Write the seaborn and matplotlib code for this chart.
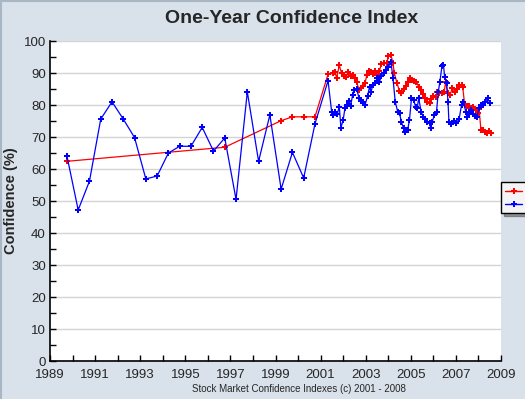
import pandas as pd
import seaborn as sns
import matplotlib.pyplot as plt
from matplotlib.lines import Line2D
from matplotlib.ticker import MultipleLocator

# Dados (ano decimal, índice em %)
red_years = [1989.75, 1996.75, 1999.25, 1999.75, 2000.25, 2000.75,
             2001.33, 2001.53, 2001.63, 2001.71, 2001.83, 2001.93, 2002.04, 2002.13,
             2002.23, 2002.33, 2002.42, 2002.51, 2002.60, 2002.71, 2002.79, 2002.90,
             2002.97, 2003.05, 2003.15, 2003.24, 2003.32, 2003.42, 2003.52, 2003.61,
             2003.69, 2003.82, 2003.94, 2004.01, 2004.12, 2004.21, 2004.27, 2004.39,
             2004.49, 2004.58, 2004.68, 2004.77, 2004.86, 2004.98, 2005.07, 2005.16,
             2005.25, 2005.35, 2005.46, 2005.55, 2005.65, 2005.73, 2005.83, 2005.91,
             2006.00, 2006.10, 2006.17, 2006.26, 2006.38, 2006.48, 2006.55, 2006.63,
             2006.74, 2006.84, 2006.95, 2007.04, 2007.14, 2007.25, 2007.30, 2007.39,
             2007.51, 2007.59, 2007.69, 2007.78, 2007.88, 2007.96, 2008.03, 2008.11,
             2008.21, 2008.30, 2008.38, 2008.45, 2008.55]
red_values = [62.4, 66.8, 75.1, 76.3, 76.3, 76.3,
              89.6, 89.9, 90.4, 88.5, 92.4, 89.9, 89.1, 88.6,
              90.4, 89.1, 89.4, 88.5, 87.1, 84.7, 85.2, 86.0,
              86.8, 89.4, 90.7, 90.4, 89.6, 90.6, 89.4, 90.6,
              92.8, 93.2, 93.0, 95.3, 95.6, 93.0, 89.9, 86.8,
              84.5, 83.6, 84.9, 85.9, 87.3, 88.3, 87.8, 87.6,
              87.3, 85.7, 84.7, 83.3, 82.1, 81.0, 80.5, 81.8,
              82.8, 82.4, 84.2, 83.9, 83.8, 84.2, 87.3, 83.6,
              83.1, 85.2, 84.2, 84.9, 86.3, 86.3, 85.7, 80.0,
              79.7, 79.7, 78.9, 79.5, 78.4, 77.4, 78.6, 72.2,
              72.2, 71.7, 71.2, 72.0, 71.2]

blue_years = [1989.75, 1990.25, 1990.75, 1991.25, 1991.75, 1992.25, 1992.75, 1993.25,
              1993.75, 1994.25, 1994.75, 1995.25, 1995.75, 1996.25, 1996.75, 1997.25,
              1997.75, 1998.25, 1998.75, 1999.25, 1999.75, 2000.25, 2000.75,
              2001.33, 2001.49, 2001.56, 2001.63, 2001.74, 2001.83, 2001.90, 2002.00,
              2002.08, 2002.18, 2002.26, 2002.33, 2002.42, 2002.50, 2002.60, 2002.71,
              2002.79, 2002.90, 2002.97, 2003.08, 2003.17, 2003.24, 2003.32, 2003.42,
              2003.50, 2003.61, 2003.70, 2003.82, 2003.91, 2004.01, 2004.12, 2004.21,
              2004.31, 2004.42, 2004.50, 2004.58, 2004.68, 2004.76, 2004.86, 2004.94,
              2005.03, 2005.13, 2005.21, 2005.28, 2005.35, 2005.46, 2005.55, 2005.65,
              2005.73, 2005.83, 2005.88, 2005.95, 2006.05, 2006.14, 2006.22, 2006.29,
              2006.38, 2006.45, 2006.50, 2006.59, 2006.65, 2006.69, 2006.80, 2006.92,
              2007.02, 2007.14, 2007.25, 2007.33, 2007.44, 2007.51, 2007.59, 2007.66,
              2007.76, 2007.85, 2007.93, 2008.03, 2008.11, 2008.21, 2008.30, 2008.41,
              2008.51]
blue_values = [64.1, 47.2, 56.2, 75.6, 81.0, 75.6, 69.8, 56.9,
               57.8, 65.0, 67.1, 67.1, 73.0, 65.6, 69.7, 50.5,
               84.1, 62.4, 76.9, 53.7, 65.2, 57.2, 74.1,
               87.6, 77.9, 76.9, 77.9, 77.2, 79.5, 72.9, 75.3,
               79.0, 80.0, 81.3, 79.7, 83.1, 84.7, 84.9, 82.1,
               81.3, 81.0, 80.0, 82.7, 85.7, 84.2, 86.3, 86.8,
               88.3, 87.3, 89.0, 89.9, 90.9, 92.0, 93.5, 88.3,
               81.0, 77.9, 77.4, 74.8, 72.7, 71.7, 72.2, 75.3,
               82.1, 81.6, 79.5, 79.0, 82.1, 77.9, 76.3, 75.5,
               74.8, 74.5, 72.7, 74.8, 76.9, 77.9, 84.2, 87.3,
               92.1, 92.6, 88.6, 86.8, 81.0, 74.8, 74.2, 75.1,
               74.5, 75.5, 80.0, 81.0, 77.9, 76.3, 77.4, 78.4,
               77.2, 76.6, 76.3, 79.0, 80.0, 80.0, 81.0, 82.1,
               80.5]

series_names = ["red", "blue"]
series_colors = ["#ff0000", "#0000ff"]

df = pd.concat([
    pd.DataFrame({"ano": red_years, "confianca": red_values, "serie": "red"}),
    pd.DataFrame({"ano": blue_years, "confianca": blue_values, "serie": "blue"}),
], ignore_index=True)

sns.set_theme(style="white")
plt.rcParams["font.family"] = ["Liberation Sans", "DejaVu Sans"]

bg = "#d9e1ea"
fig = plt.figure(figsize=(5.25, 3.99), dpi=100, facecolor=bg)
ax = fig.add_axes([50 / 525, 38 / 399, 451 / 525, 320 / 399])
ax.set_facecolor("white")

sns.lineplot(data=df, x="ano", y="confianca", hue="serie", hue_order=series_names,
             palette=series_colors, estimator=None, sort=False, marker="P",
             markersize=4.5, markeredgewidth=0, linewidth=0.9, legend=False, ax=ax)

ax.set_xlim(1989, 2009)
ax.set_ylim(0, 100)
ax.xaxis.set_major_locator(MultipleLocator(2))
ax.xaxis.set_minor_locator(MultipleLocator(1))
ax.yaxis.set_major_locator(MultipleLocator(10))
ax.yaxis.set_minor_locator(MultipleLocator(5))
ax.set_xticks(range(1989, 2010, 2))
ax.tick_params(which="both", direction="in", length=4, width=1, color="black",
               labelsize=9.5, bottom=True, left=True)
ax.tick_params(axis="x", pad=6)
ax.tick_params(axis="y", pad=3)
ax.grid(axis="y", color="#d4d4d4", linewidth=1)
ax.set_axisbelow(True)
for s in ["top", "right"]:
    ax.spines[s].set_visible(False)
for s in ["left", "bottom"]:
    ax.spines[s].set_color("black")
    ax.spines[s].set_linewidth(1.2)

ax.set_xlabel("")
ax.set_ylabel("Confidence (%)", fontsize=10.5, fontweight="bold", labelpad=4)
fig.text(0.556, 0.953, "One-Year Confidence Index", ha="center", va="center",
         fontsize=14, fontweight="bold")
fig.text(0.570, 0.025, "Stock Market Confidence Indexes (c) 2001 - 2008",
         ha="center", va="center", fontsize=7)

# Legenda cortada na borda direita
handles = [Line2D([], [], color=c, marker="P", markersize=5, markeredgewidth=0, linewidth=1)
           for c in series_colors]
fig.legend(handles, ["          ", "          "], loc="upper left",
           bbox_to_anchor=(501 / 525, 1 - 182 / 399), frameon=True, fancybox=False,
           shadow=True, edgecolor="black", facecolor="#f4f4f4", framealpha=1,
           fontsize=7.5, handlelength=1.6, borderpad=0.4, labelspacing=0.3,
           handletextpad=0.4, borderaxespad=0)

# Borda superior e esquerda da figura
fig.add_artist(Line2D([0, 1], [0.998, 0.998], color="#a9b6c4", linewidth=1.5))
fig.add_artist(Line2D([0.002, 0.002], [0, 1], color="#a9b6c4", linewidth=1.5))

fig.savefig("out.png", dpi=100, facecolor=bg)
